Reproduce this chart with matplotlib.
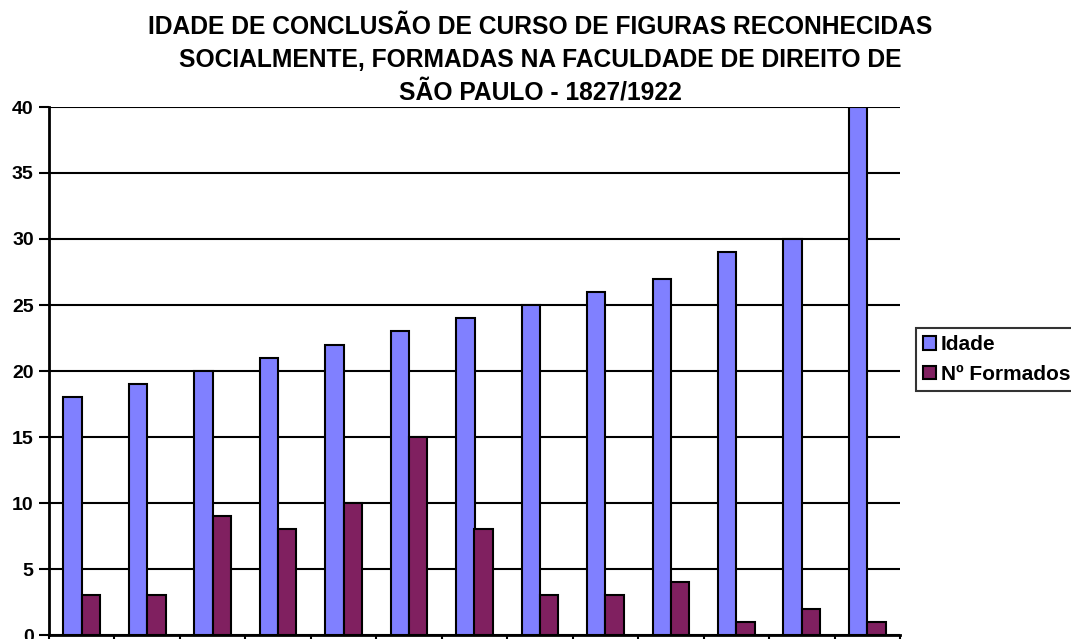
import numpy as np
import matplotlib.pyplot as plt

plt.rcParams["font.family"] = ["Liberation Sans", "DejaVu Sans"]
plt.rcParams["font.weight"] = "bold"

categorias = ["1", "2", "3", "4", "5", "6", "7", "8", "9", "10", "11", "12", "13"]
idade = [18, 19, 20, 21, 22, 23, 24, 25, 26, 27, 29, 30, 40]
formados = [3, 3, 9, 8, 10, 15, 8, 3, 3, 4, 1, 2, 1]

W, H = 1071, 639
fig = plt.figure(figsize=(W / 100, H / 100), dpi=100)
ax = fig.add_axes([49 / W, (H - 635) / H, (900 - 49) / W, (635 - 107) / H])

x = np.arange(len(categorias))
w = 0.28
ax.bar(x - w / 2, idade, w, color="#8080FF", edgecolor="black", linewidth=1.5,
       label="Idade", zorder=3)
ax.bar(x + w / 2, formados, w, color="#802060", edgecolor="black", linewidth=1.5,
       label="Nº Formados", zorder=3)

ax.set_xlim(-0.5, len(categorias) - 0.5)
ax.set_ylim(0, 40)
ax.set_yticks(range(0, 41, 5))
ax.set_yticklabels([str(v) for v in range(0, 41, 5)], fontsize=14, fontweight="bold")
ax.yaxis.grid(True, color="black", linewidth=1.5, zorder=0)
ax.set_xticks(np.arange(len(categorias) + 1) - 0.5)
ax.set_xticklabels([])
ax.tick_params(axis="x", length=7, width=1.5, direction="out")
ax.tick_params(axis="y", length=7, width=1.5, direction="out", pad=4)

for s in ["top", "right"]:
    ax.spines[s].set_visible(False)
ax.spines["left"].set_linewidth(2)
ax.spines["bottom"].set_linewidth(2)

fig.text(540 / W, 1 - 15 / H,
         "IDADE DE CONCLUSÃO DE CURSO DE FIGURAS RECONHECIDAS\n"
         "SOCIALMENTE, FORMADAS NA FACULDADE DE DIREITO DE\n"
         "SÃO PAULO - 1827/1922",
         ha="center", va="top", fontsize=17.7, fontweight="bold", linespacing=1.45)

leg = fig.legend(loc="upper left", bbox_to_anchor=(916 / W, 1 - 328 / H),
                 fontsize=15, frameon=True, fancybox=False, edgecolor="black",
                 handlelength=0.6, handleheight=0.6, handletextpad=0.25,
                 borderpad=0.35, labelspacing=0.5, borderaxespad=0)
leg.get_frame().set_linewidth(1.5)
for t in leg.get_texts():
    t.set_fontweight("bold")

fig.savefig("out.png", dpi=100)
